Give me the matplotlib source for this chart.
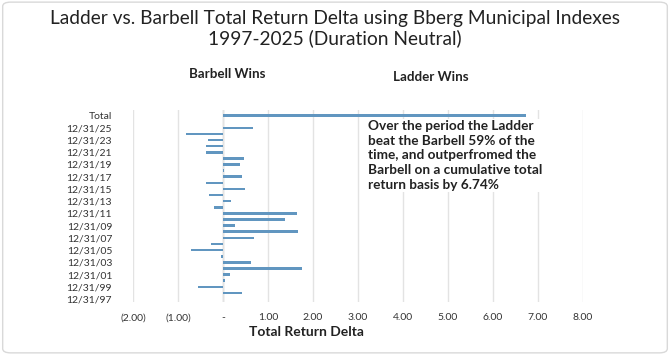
import matplotlib
matplotlib.use("Agg")
import matplotlib.pyplot as plt
from matplotlib.patches import FancyBboxPatch

plt.rcParams['font.family'] = ['Lato', 'DejaVu Sans']

years = [f"12/31/{y % 100:02d}" for y in range(1997, 2026)]
categories = years + ["", "Total"]
values = [0.00, 0.42, -0.56, 0.05, 0.16, 1.75, 0.63, -0.04, -0.71, -0.27,
          0.70, 1.67, 0.27, 1.37, 1.64, -0.19, 0.185, -0.30, 0.49, -0.37,
          0.415, 0.02, 0.385, 0.46, -0.37, -0.37, -0.34, -0.83, 0.67,
          0.0, 6.74]
xticks = [-2, -1, 0, 1, 2, 3, 4, 5, 6, 7, 8]
xticklabels = ["(2.00)", "(1.00)", "-", "1.00", "2.00", "3.00", "4.00",
               "5.00", "6.00", "7.00", "8.00"]

fig = plt.figure(figsize=(6.7, 3.55), dpi=100)
fig.patch.set_facecolor("white")
border = FancyBboxPatch((0.004, 0.006), 0.992, 0.988,
                        boxstyle="round,pad=0,rounding_size=0.012",
                        transform=fig.transFigure, facecolor="white",
                        edgecolor="#d9d9d9", linewidth=1.0, zorder=-10)
fig.patches.append(border)

ax = fig.add_axes([0.1985, 0.149, 0.6715, 0.541])
pos = list(range(len(categories)))
ax.barh(pos, values, height=0.42, color="#6196c0", zorder=3)
ax.set_xlim(-2, 8)
ax.set_ylim(-0.5, 30.9)
ax.set_xticks(xticks)
ax.set_xticklabels(xticklabels, fontsize=7.5, color="#333333")
ax.set_yticks(pos[::2])
ax.set_yticklabels(categories[::2], fontsize=7.5, color="#333333")
ax.tick_params(axis="both", length=0, pad=8)
ax.tick_params(axis="y", pad=15)
for s in ax.spines.values():
    s.set_visible(False)
ax.set_facecolor("none")
ax.grid(axis="x", color="#e3e3e3", linewidth=1.0, zorder=0)
ax.axvline(0, color="#d0d0d0", linewidth=1.0, zorder=1)

fig.text(0.457, 0.066, "Total Return Delta", ha="center", va="center",
         fontsize=10, fontweight="bold", color="#222222")

fig.text(0.5, 0.948, "Ladder vs. Barbell Total Return Delta using Bberg Municipal Indexes",
         ha="center", va="center", fontsize=13.8, color="#222222")
fig.text(0.5, 0.891, "1997-2025 (Duration Neutral)",
         ha="center", va="center", fontsize=13.8, color="#222222")
fig.text(0.339, 0.792, "Barbell Wins", ha="center", va="center",
         fontsize=9.6, fontweight="bold", color="#222222")
fig.text(0.643, 0.783, "Ladder Wins", ha="center", va="center",
         fontsize=9.6, fontweight="bold", color="#222222")
fig.text(0.549, 0.662,
         "Over the period the Ladder\nbeat the Barbell 59% of the\n"
         "time, and outperfromed the\nBarbell on a cumulative total\n"
         "return basis by 6.74%",
         ha="left", va="top", fontsize=9.8, fontweight="bold",
         color="#222222", linespacing=1.27,
         bbox=dict(facecolor="white", edgecolor="none", pad=1))

fig.savefig("out.png", dpi=100)
